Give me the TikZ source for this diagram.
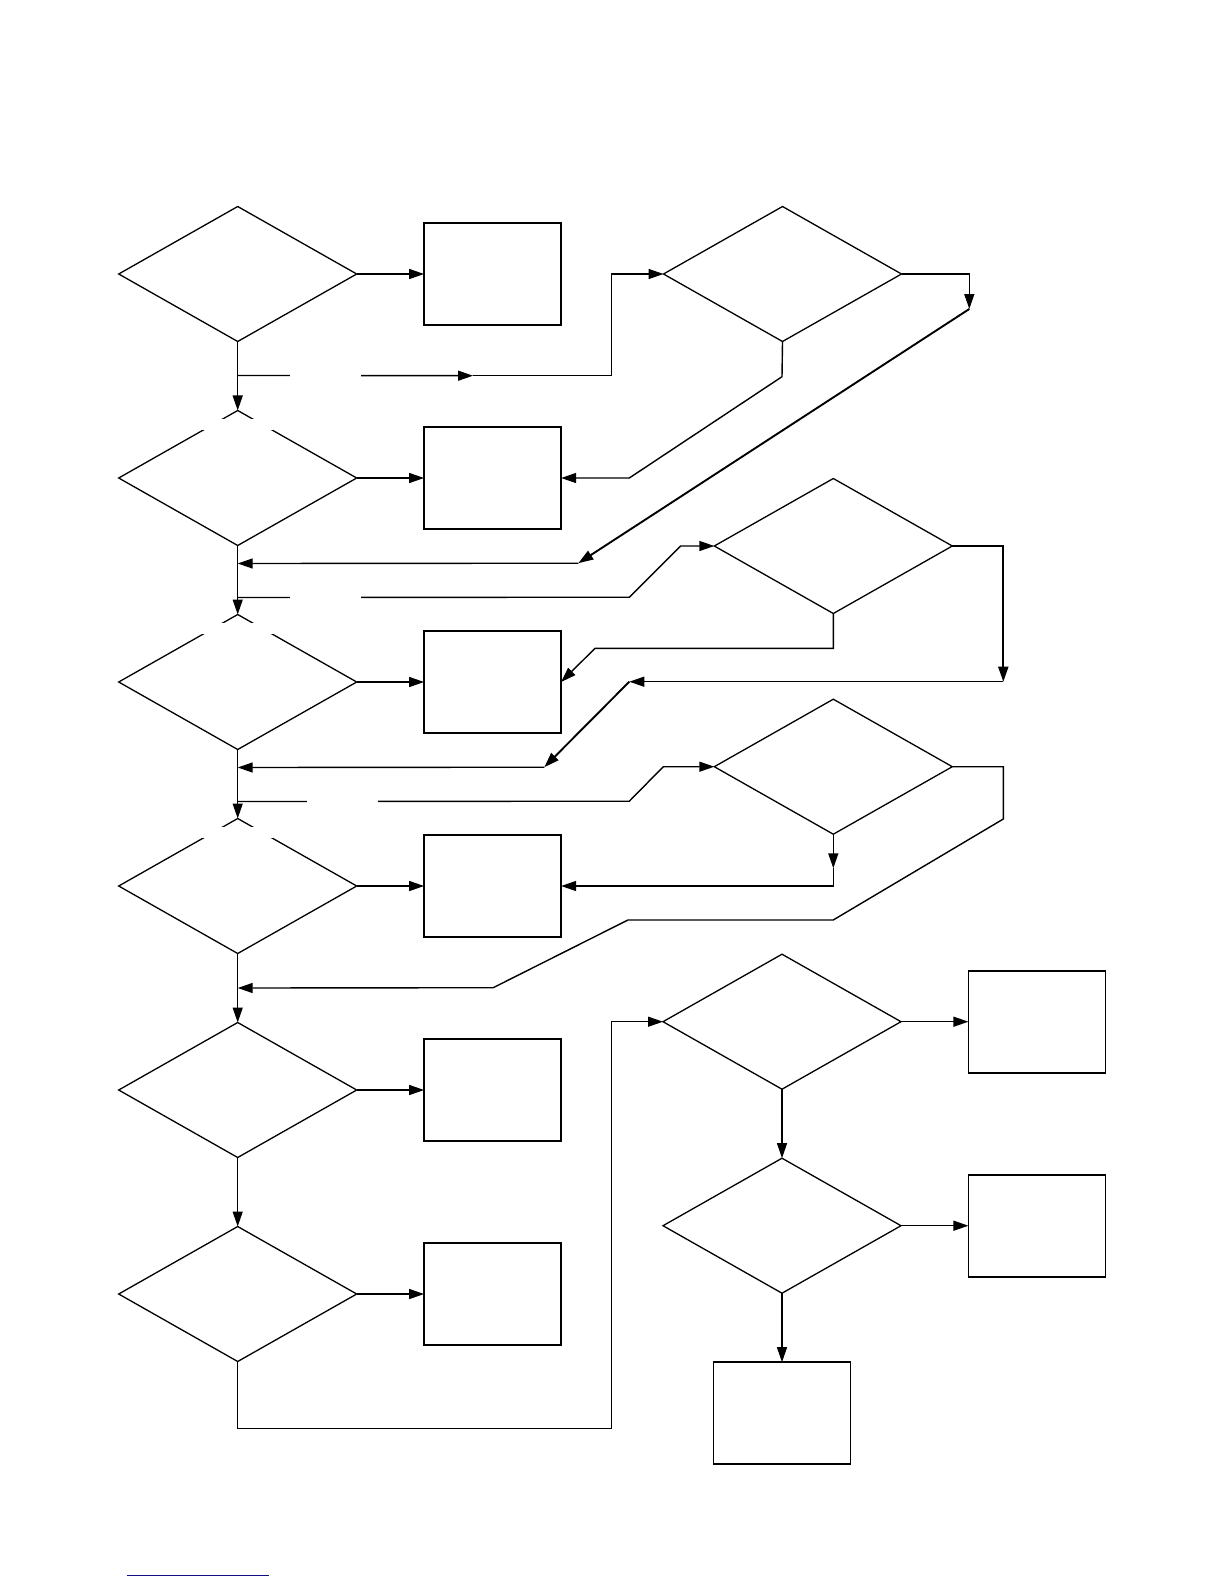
\documentclass[tikz,border=0pt]{standalone}
\usepackage{xcolor}
\usetikzlibrary{shapes.geometric, arrows.meta, positioning, calc}
\definecolor{linkblue}{RGB}{16,16,128}

\begin{document}
\begin{tikzpicture}[
  x=0.5pt, y=-0.5pt,
  node distance=34.5pt,
  dec/.style={diamond, draw, line width=0.65pt, minimum width=119pt,
              minimum height=67.5pt, inner sep=0pt, outer sep=0pt},
  proc/.style={rectangle, draw, line width=0.9pt, minimum width=68.5pt,
               minimum height=51pt, inner sep=0pt, outer sep=0pt},
  lblgap/.style={fill=white, minimum width=35.5pt, minimum height=5.5pt, inner sep=0pt},
  arr/.style={-{Triangle[length=7.5pt,width=5pt]}, line width=0.7pt},
  heavy/.style={line width=0.95pt}
]
  \useasboundingbox (0,0) rectangle (1224,1584);

  % left column
  \node[dec] (q1) at (237.7,274) {};
  \node[proc, right=33.7pt of q1] (b1) {};
  \node[dec,  below=of q1] (q2) {};
  \node[proc, right=33.7pt of q2] (b2) {};
  \node[dec,  below=of q2] (q3) {};
  \node[proc, right=33.7pt of q3] (b3) {};
  \node[dec,  below=of q3] (q4) {};
  \node[proc, right=33.7pt of q4] (b4) {};
  \node[dec,  below=of q4] (q5) {};
  \node[proc, right=33.7pt of q5] (b5) {};
  \node[dec,  below=of q5] (q6) {};
  \node[proc, right=33.7pt of q6] (b6) {};

  % right side
  \node[dec, right=51.2pt of b1] (r1) {};
  \node[dec] (r2) at (833.3,546) {};
  \node[dec] (r3) at (833.3,766.7) {};
  \node[dec] (r4) at (782,1021.7) {};
  \node[proc, right=33.7pt of r4] (b7) {};
  \node[dec,  below=of r4] (r5) {};
  \node[proc, right=33.7pt of r5] (b8) {};
  \node[proc, below=of r5] (b9) {};

  % blank label patches on the diamond tops
  \node[lblgap] (g2) at ($(q2.north)+(0,13.6)$) {};
  \node[lblgap] (g3) at ($(q3.north)+(0,13.6)$) {};
  \node[lblgap] (g4) at ($(q4.north)+(0,13.6)$) {};

  % junctions on the trunk
  \coordinate (j1) at ($(q1.south)+(0,34)$);
  \coordinate (j2) at ($(q2.south)+(0,52)$);
  \coordinate (j3) at ($(q3.south)+(0,52)$);
  \coordinate (m2) at ($(q2.south)+(0,18)$);
  \coordinate (m3) at ($(q3.south)+(0,18)$);
  \coordinate (m4) at ($(q4.south)+(0,34.5)$);

  % bends
  \coordinate (a1)  at (473,375.7);
  \coordinate (k1)  at (611.7,274);
  \coordinate (c1)  at (782,376.7);
  \coordinate (c2)  at (629.3,478);
  \coordinate (c3)  at (969.3,274);
  \coordinate (c4)  at (969.3,309);
  \coordinate (c5)  at (578.3,563.2);
  \coordinate (c6)  at (629.3,597.2);
  \coordinate (c7)  at (680.7,546);
  \coordinate (c8)  at (833.3,648.3);
  \coordinate (c9)  at (595,648.3);
  \coordinate (c10) at (1003.3,546);
  \coordinate (c11) at (1003.3,681.7);
  \coordinate (c12) at (629.3,681.7);
  \coordinate (c13) at (544.3,767.2);
  \coordinate (c14) at (629.3,801.2);
  \coordinate (c15) at (663.3,766.7);
  \coordinate (c16) at (833.3,868.3);
  \coordinate (c18) at (1003.3,766.7);
  \coordinate (c19) at (1003.3,819);
  \coordinate (c20) at (833.2,920);
  \coordinate (c21) at (627.9,920);
  \coordinate (c22) at (493.2,987.7);
  \coordinate (c24) at (611.7,1428.6);

  % trunk
  \draw[arr] (q1) -- (q2);
  \draw[arr] (q2) -- (q3);
  \draw[arr] (q3) -- (q4);
  \draw[arr] (q4) -- (q5);
  \draw[arr] (q5) -- (q6);

  % diamonds to boxes
  \draw[arr] (q1) -- (b1);
  \draw[arr] (q2) -- (b2);
  \draw[arr] (q3) -- (b3);
  \draw[arr] (q4) -- (b4);
  \draw[arr] (q5) -- (b5);
  \draw[arr] (q6) -- (b6);

  % first branch
  \draw[arr] (j1) -- node[lblgap, pos=0.373] (g1) {} (a1);
  \draw[arr] (a1) -| (k1) -- (r1.west);
  \draw[arr] (r1.south) -- (c1) -- (c2) -- (b2.east);
  \draw[arr] (r1.east) -- (c3) -- (c4);
  \draw[arr, heavy] (c4) -- (c5);
  \draw[arr] (c5) -- (m2);

  % second branch
  \draw[arr] (j2) -- node[lblgap, pos=0.224] (g5) {} (c6) -- (c7) -- (r2.west);
  \draw[arr] (r2.south) -- (c8) -- (c9) -- (b3.east);
  \draw[arr, heavy] (r2.east) -- (c10) -- (c11);
  \draw[arr] (c11) -- (c12);
  \draw[arr, heavy] (c12) -- (c13);
  \draw[arr] (c13) -- (m3);

  % third branch
  \draw[arr] (j3) -- node[lblgap, pos=0.268] (g6) {} (c14) -- (c15) -- (r3.west);
  \draw[arr] (r3.south) -- (c16);
  \draw[arr] (c16) |- (b4.east);
  \draw[arr] (r3.east) -- (c18) -- (c19) -- (c20) -- (c21) -- (c22) -- (m4);

  % lower part
  \draw[arr] (q6.south) |- (c24) |- (r4.west);
  \draw[arr] (r4) -- (b7);
  \draw[arr, line width=0.55pt] (r4) -- (r5);
  \draw[arr] (r5) -- (b8);
  \draw[arr, line width=0.55pt] (r5) -- (b9);

  \draw[linkblue, line width=0.6pt] (126.7,1575.3) -- (269,1575.3);
\end{tikzpicture}
\end{document}
